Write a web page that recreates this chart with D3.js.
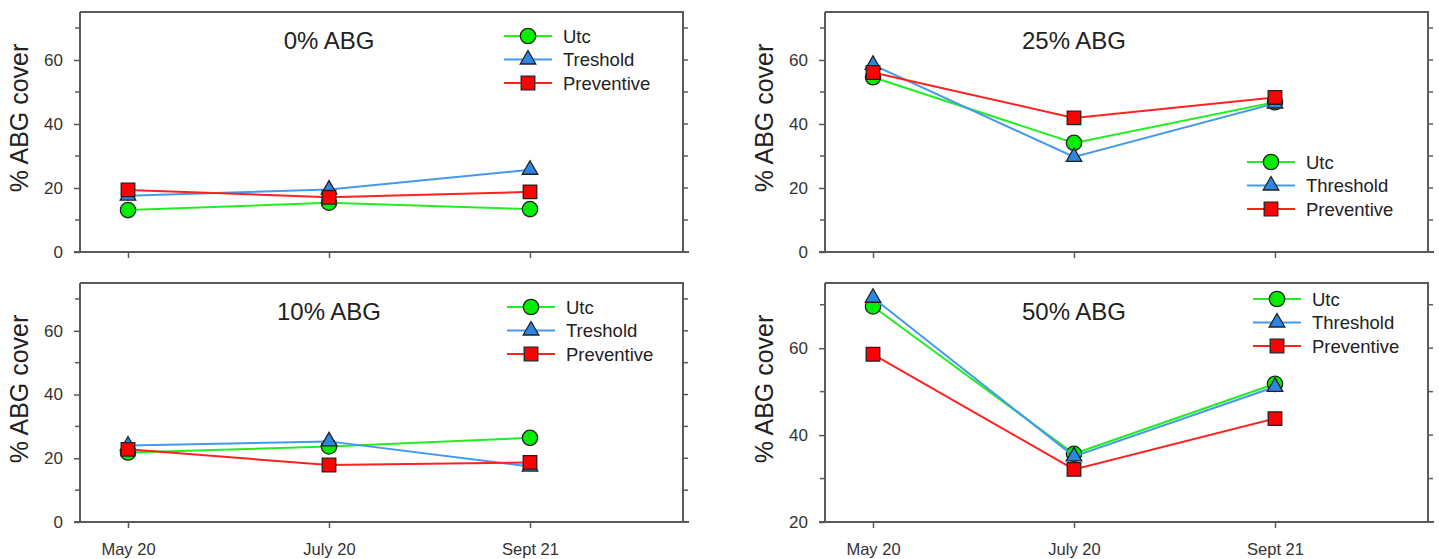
<!DOCTYPE html>
<html>
<head>
<meta charset="utf-8">
<script src="https://cdn.jsdelivr.net/npm/d3@7"></script>
<style>
  body { margin: 0; background: #fff; }
  svg { display: block; font-family: "Liberation Sans", Arial, sans-serif; }
</style>
</head>
<body>
<svg id="chart" width="1439" height="559"></svg>
<script>
// dates on the x axis
var dates = ['May 20', 'July 20', 'Sept 21']

// % ABG cover per panel
var abg0Utc = [13.1, 15.4, 13.4]
var abg0Threshold = [17.6, 19.5, 25.7]
var abg0Preventive = [19.4, 17.1, 18.8]

var abg25Utc = [54.6, 34.1, 46.8]
var abg25Threshold = [58.5, 29.7, 46.4]
var abg25Preventive = [56.1, 41.9, 48.3]

var abg10Utc = [21.8, 23.7, 26.4]
var abg10Threshold = [24.0, 25.3, 17.4]
var abg10Preventive = [22.8, 17.9, 18.7]

var abg50Utc = [69.6, 35.7, 51.8]
var abg50Threshold = [71.6, 35.1, 51.1]
var abg50Preventive = [58.6, 32.1, 43.8]

var yTicks0 = [0, 20, 40, 60]
var yTicks50 = [20, 40, 60]

var colors = { line: ['#22ee22', '#4499ee', '#ff2020'], fill: ['#00ee00', '#2f86e0', '#ff0000'] }
var shapes = [d3.symbolCircle, d3.symbolTriangle, d3.symbolSquare]
var sizes = [185, 105, 185]

var panels = [
  { title: '0% ABG', left: 80, top: 12, bottom: 252, ymin: 0, ticks: yTicks0, xlabels: false,
    names: ['Utc', 'Treshold', 'Preventive'], series: [abg0Utc, abg0Threshold, abg0Preventive], legend: [528, 36] },
  { title: '25% ABG', left: 825, top: 12, bottom: 252, ymin: 0, ticks: yTicks0, xlabels: false,
    names: ['Utc', 'Threshold', 'Preventive'], series: [abg25Utc, abg25Threshold, abg25Preventive], legend: [1271, 162] },
  { title: '10% ABG', left: 80, top: 283, bottom: 522, ymin: 0, ticks: yTicks0, xlabels: true,
    names: ['Utc', 'Treshold', 'Preventive'], series: [abg10Utc, abg10Threshold, abg10Preventive], legend: [531, 307] },
  { title: '50% ABG', left: 825, top: 283, bottom: 522, ymin: 20, ticks: yTicks50, xlabels: true,
    names: ['Utc', 'Threshold', 'Preventive'], series: [abg50Utc, abg50Threshold, abg50Preventive], legend: [1277, 299] }
]

var svg = d3.select('#chart')
var axisColor = '#5a5a5a'

function drawPanel (p) {
  var width = 603
  var right = p.left + width
  var x = d3.scaleLinear().domain([0, 2]).range([p.left + 48, p.left + 450])
  var y = d3.scaleLinear().domain([p.ymin, 75]).range([p.bottom, p.top])
  var g = svg.append('g')

  // frame: top and right
  g.append('path')
    .attr('d', 'M' + p.left + ',' + p.top + 'H' + right + 'V' + p.bottom)
    .attr('fill', 'none').attr('stroke', axisColor).attr('stroke-width', 2)

  // left axis
  var yAxis = d3.axisLeft(y).tickValues(p.ticks).tickSize(6).tickPadding(11).tickFormat(d3.format('d'))
  var ya = g.append('g').attr('transform', 'translate(' + p.left + ',0)').call(yAxis)
  ya.select('.domain').attr('stroke', axisColor).attr('stroke-width', 2)
    .attr('d', 'M0,' + p.top + 'V' + p.bottom)
  ya.selectAll('.tick line').attr('stroke', axisColor).attr('stroke-width', 1.5)
  ya.selectAll('.tick text').attr('font-size', 17).attr('fill', '#333').attr('font-family', 'Liberation Sans, Arial')
  var minor = d3.range(p.ymin + 10, 75, 20)
  g.selectAll('.minorL').data(minor).join('line')
    .attr('x1', p.left - 5).attr('x2', p.left).attr('y1', d => y(d)).attr('y2', d => y(d))
    .attr('stroke', axisColor).attr('stroke-width', 1.5)

  // right axis ticks
  var allTicks = p.ticks.concat(minor)
  g.selectAll('.tickR').data(allTicks).join('line')
    .attr('x1', right).attr('x2', right + 5).attr('y1', d => y(d)).attr('y2', d => y(d))
    .attr('stroke', axisColor).attr('stroke-width', 1.5)

  // bottom axis
  var xAxis = d3.axisBottom(x).tickValues([0, 1, 2]).tickSize(6).tickPadding(15)
    .tickFormat(i => p.xlabels ? dates[i] : '')
  var xa = g.append('g').attr('transform', 'translate(0,' + p.bottom + ')').call(xAxis)
  xa.select('.domain').attr('stroke', axisColor).attr('stroke-width', 2)
    .attr('d', 'M' + (p.left - 6) + ',0H' + (right + 6))
  xa.selectAll('.tick line').attr('stroke', axisColor).attr('stroke-width', 1.5)
  xa.selectAll('.tick text').attr('font-size', 16.5).attr('fill', '#333').attr('font-family', 'Liberation Sans, Arial')

  // y label
  g.append('text')
    .attr('transform', 'translate(' + (p.left - 52) + ',' + (p.top + 106) + ') rotate(-90)')
    .attr('text-anchor', 'middle').attr('font-size', 25).attr('fill', '#222')
    .text('% ABG cover')

  // title
  g.append('text')
    .attr('x', x(1)).attr('y', p.top + 37)
    .attr('text-anchor', 'middle').attr('font-size', 24).attr('fill', '#222')
    .text(p.title)

  // series
  var line = d3.line().x((d, i) => x(i)).y(d => y(d))
  p.series.forEach(function (vals, s) {
    g.append('path').datum(vals)
      .attr('d', line).attr('fill', 'none')
      .attr('stroke', colors.line[s]).attr('stroke-width', 2)
    g.selectAll('.m' + s).data(vals).join('path')
      .attr('transform', (d, i) => 'translate(' + x(i) + ',' + y(d) + ')')
      .attr('d', d3.symbol().type(shapes[s]).size(sizes[s]))
      .attr('fill', colors.fill[s]).attr('stroke', '#222').attr('stroke-width', 1.3)
  })

  // legend
  var lx = p.legend[0], ly = p.legend[1]
  p.names.forEach(function (name, s) {
    var yy = ly + s * 23.5
    g.append('line').attr('x1', lx - 24).attr('x2', lx + 24).attr('y1', yy).attr('y2', yy)
      .attr('stroke', colors.line[s]).attr('stroke-width', 2)
    g.append('path').attr('transform', 'translate(' + lx + ',' + yy + ')')
      .attr('d', d3.symbol().type(shapes[s]).size(sizes[s]))
      .attr('fill', colors.fill[s]).attr('stroke', '#222').attr('stroke-width', 1.3)
    g.append('text').attr('x', lx + 35).attr('y', yy + 6.5)
      .attr('font-size', 18.5).attr('fill', '#222').text(name)
  })
}

panels.forEach(drawPanel)
</script>
</body>
</html>
